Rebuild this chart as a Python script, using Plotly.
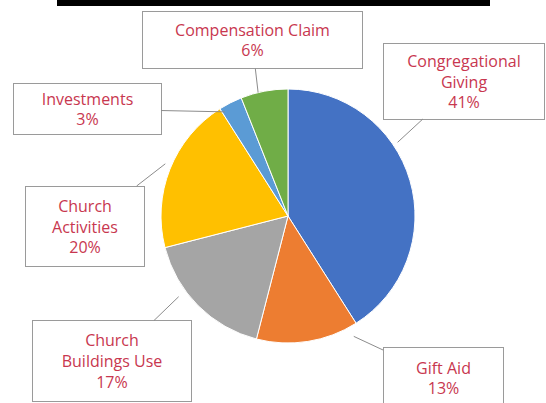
import math
import plotly.graph_objects as go

labels = ["Congregational Giving", "Gift Aid", "Church Buildings Use",
          "Church Activities", "Investments", "Compensation Claim"]
values = [41, 13, 17, 20, 3, 6]
colors = ["#4472C4", "#ED7D31", "#A5A5A5", "#FFC000", "#5B9BD5", "#70AD47"]
box_text = ["Congregational<br>Giving<br>41%", "Gift Aid<br>13%",
            "Church<br>Buildings Use<br>17%", "Church<br>Activities<br>20%",
            "Investments<br>3%", "Compensation Claim<br>6%"]

W, H = 546, 403
cx, cy, R = 288, 216, 127

fig = go.Figure(go.Pie(
    labels=labels, values=values, sort=False, direction="clockwise", rotation=0,
    marker=dict(colors=colors, line=dict(color="white", width=1)),
    textinfo="none", hoverinfo="label+percent",
    domain=dict(x=[(cx - R) / W, (cx + R) / W],
                y=[(H - cy - R) / H, (H - cy + R) / H]),
))

# callout box centers/sizes (pixels, y from top)
boxes = [(464, 81, 162, 77), (443, 378, 121, 62), (112, 361, 160, 82),
         (85, 226, 120, 81), (87, 109, 149, 52), (252, 40, 221, 58)]
# where the leader line touches each slice: fraction along slice, radius factor
tip_frac = [0.38, 0.08, 0.64, 0.52, 0.1, 0.37]
tip_r = [1.04, 1.08, 1.07, 1.05, 0.96, 1.0]

total = sum(values)
cum = 0
annotations = []
for i, v in enumerate(values):
    a = math.radians(360 * (cum + v * tip_frac[i]) / total)
    cum += v
    tx = cx + R * tip_r[i] * math.sin(a)
    ty = cy - R * tip_r[i] * math.cos(a)
    bx, by, bw, bh = boxes[i]
    annotations.append(dict(
        x=tx / W, y=1 - ty / H, xref="paper", yref="paper",
        ax=bx - tx, ay=by - ty, axref="pixel", ayref="pixel",
        text=box_text[i], showarrow=True, arrowhead=0, arrowwidth=1,
        arrowcolor="#8c8c8c", width=bw - 4, height=bh - 4,
        bordercolor="#9a9a9a", borderwidth=1, bgcolor="white",
        font=dict(family="Open Sans", size=16, color="#c8374f"),
        align="center", valign="middle",
    ))

fig.update_layout(
    width=W, height=H, margin=dict(l=0, r=0, t=0, b=0),
    paper_bgcolor="white", plot_bgcolor="white", showlegend=False,
    annotations=annotations,
    shapes=[dict(type="rect", xref="paper", yref="paper",
                 x0=57 / W, x1=490 / W, y0=1 - 6 / H, y1=1.0,
                 fillcolor="black", line=dict(width=0))],
)
fig.write_html("out.html", config={"displayModeBar": False},
               post_script="document.body.style.margin='0px';document.body.style.overflow='hidden';")
